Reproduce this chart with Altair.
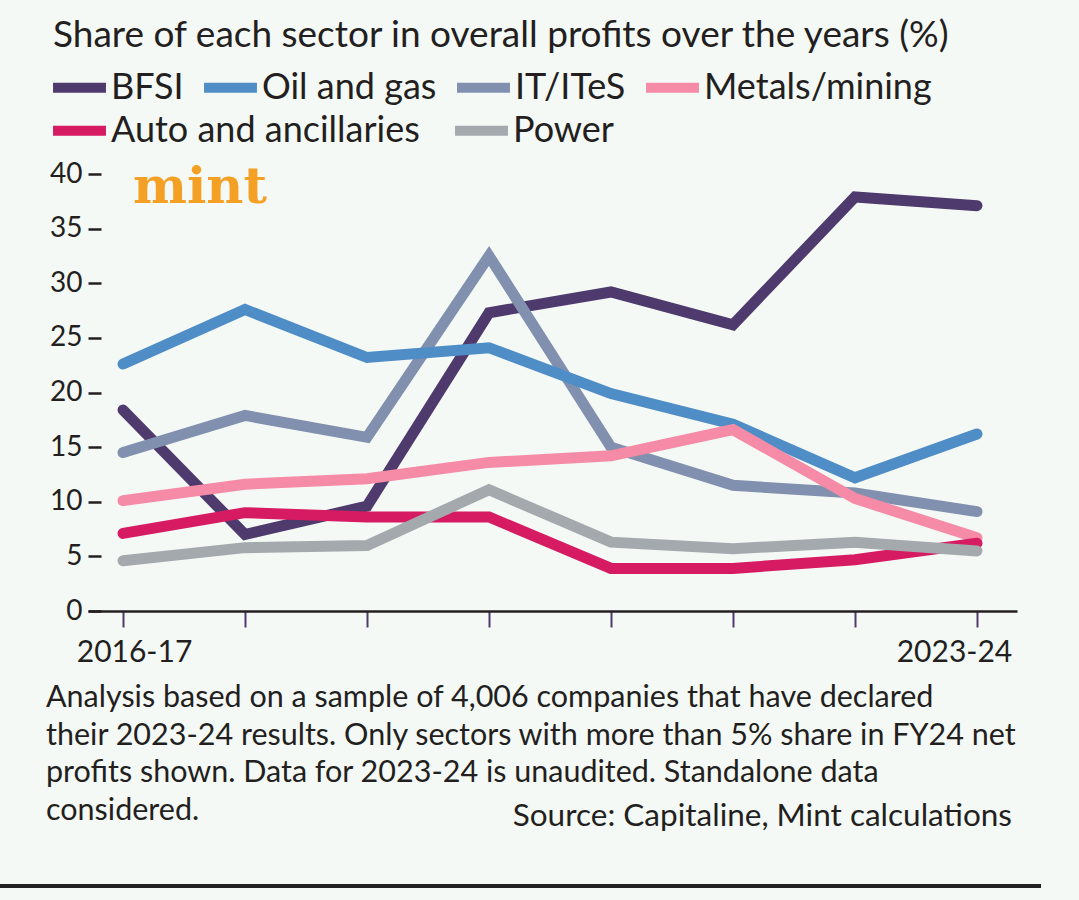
import altair as alt
import pandas as pd

# Fiscal years shown on the x axis
years = ["2016-17", "2017-18", "2018-19", "2019-20", "2020-21", "2021-22", "2022-23", "2023-24"]

# Share of each sector in overall net profits (%)
bfsi = [18.4, 7.0, 9.6, 27.3, 29.2, 26.2, 37.9, 37.1]
oil_gas = [22.6, 27.6, 23.2, 24.1, 19.9, 17.1, 12.2, 16.2]
it_ites = [14.5, 17.9, 15.9, 32.5, 15.0, 11.5, 10.8, 9.1]
metals_mining = [10.1, 11.6, 12.1, 13.6, 14.2, 16.6, 10.3, 6.7]
auto_ancillaries = [7.1, 9.0, 8.6, 8.6, 3.9, 3.9, 4.7, 6.2]
power = [4.6, 5.8, 6.0, 11.1, 6.3, 5.7, 6.3, 5.5]

# Legend rows: each row gets its own key
row1_names = ["BFSI", "Oil and gas", "IT/ITeS", "Metals/mining"]
row1_colors = ["#4e3a6c", "#4f8dc6", "#8190ae", "#f58ba6"]
row2_names = ["Auto and ancillaries", "Power"]
row2_colors = ["#d61b62", "#a4a9ad"]

# Lines are drawn in this order (later ones sit on top)
series = [
    ("BFSI", bfsi),
    ("IT/ITeS", it_ites),
    ("Oil and gas", oil_gas),
    ("Metals/mining", metals_mining),
    ("Auto and ancillaries", auto_ancillaries),
    ("Power", power),
]

subtitle = "Share of each sector in overall profits over the years (%)"
footnote = [
    "Analysis based on a sample of 4,006 companies that have declared",
    "their 2023-24 results. Only sectors with more than 5% share in FY24 net",
    "profits shown. Data for 2023-24 is unaudited. Standalone data",
    "considered.",
]
source = "Source: Capitaline, Mint calculations"

rows = []
for name, vals in series:
    for i, (yr, v) in enumerate(zip(years, vals)):
        rows.append({"Sector": name, "Year": yr, "idx": i, "Share": v})
df = pd.DataFrame(rows)

FONT = "Lato"
INK = "#231f20"
BG = "#f5f9f6"

label_expr = f"datum.value == 0 ? '{years[0]}' : (datum.value == {len(years) - 1} ? '{years[-1]}' : '')"

x_enc = alt.X(
    "idx:Q",
    scale=alt.Scale(domain=[-0.287, 7.328], nice=False, zero=False),
    axis=alt.Axis(
        values=list(range(len(years))),
        labelExpr=label_expr,
        title=None,
        grid=False,
        domainColor=INK,
        domainWidth=2.5,
        tickColor="#4e3a6c",
        tickWidth=2,
        tickSize=16,
        labelFont=FONT,
        labelFontSize=30,
        labelColor=INK,
        labelPadding=10,
        labelOffset=alt.condition("datum.value == 0", alt.value(11), alt.value(-23)),
    ),
)

y_enc = alt.Y(
    "Share:Q",
    scale=alt.Scale(domain=[0, 40], nice=False),
    axis=alt.Axis(
        values=[0, 5, 10, 15, 20, 25, 30, 35, 40],
        title=None,
        grid=False,
        domain=False,
        offset=-13,
        tickColor=INK,
        tickWidth=2.5,
        tickSize=13,
        labelFont=FONT,
        labelFontSize=28,
        labelColor=INK,
        labelPadding=6,
    ),
)


def row_legend(y_pos, gap):
    return alt.Legend(
        title=None,
        orient="none",
        legendX=-40,
        legendY=y_pos,
        direction="horizontal",
        columns=4,
        columnPadding=gap,
        symbolType="stroke",
        symbolSize=2800,
        symbolStrokeWidth=10,
        labelFont=FONT,
        labelFontSize=36,
        labelColor=INK,
        labelOffset=0,
        labelLimit=600,
    )


line_style = dict(strokeWidth=11, strokeCap="round", strokeJoin="miter")

lines_top = alt.Chart(df).transform_filter(
    alt.FieldOneOfPredicate(field="Sector", oneOf=row1_names)
).mark_line(**line_style).encode(
    x=x_enc,
    y=y_enc,
    color=alt.Color(
        "Sector:N",
        scale=alt.Scale(domain=row1_names, range=row1_colors),
        legend=row_legend(-118, 0),
    ),
    detail="Sector:N",
)

lines_bottom = alt.Chart(df).transform_filter(
    alt.FieldOneOfPredicate(field="Sector", oneOf=row2_names)
).mark_line(**line_style).encode(
    x=x_enc,
    y=y_enc,
    stroke=alt.Stroke(
        "Sector:N",
        scale=alt.Scale(domain=row2_names, range=row2_colors),
        legend=row_legend(-75, 15),
    ),
    detail="Sector:N",
)

one = alt.Data(values=[{"k": 0}])

title_text = alt.Chart(one).mark_text(
    text=subtitle, font=FONT, fontSize=37, color=INK, align="left", baseline="alphabetic"
).encode(x=alt.value(-35), y=alt.value(-127))

logo = alt.Chart(one).mark_text(
    text="mint", font="DejaVu Serif", fontWeight="bold", fontSize=51,
    color="#f4a024", align="left", baseline="alphabetic"
).encode(x=alt.value(45), y=alt.value(29))

notes = alt.Chart(one).mark_text(
    text=footnote, font=FONT, fontSize=30.5, color=INK, align="left",
    baseline="alphabetic", lineHeight=37.5
).encode(x=alt.value(-42), y=alt.value(533))

source_text = alt.Chart(one).mark_text(
    text=source, font=FONT, fontSize=31.5, color=INK, align="right", baseline="alphabetic"
).encode(x=alt.value(924), y=alt.value(652))

bottom_rule = alt.Chart(one).mark_rule(color="#222222", strokeWidth=4).encode(
    x=alt.value(-88), x2=alt.value(953), y=alt.value(712)
)

chart = alt.layer(
    lines_top, lines_bottom, title_text, logo, notes, source_text, bottom_rule
).resolve_legend(color="independent", stroke="independent").properties(
    width=929,
    height=437,
    autosize=alt.AutoSizeParams(type="none"),
    padding={"left": 88, "top": 174, "right": 62, "bottom": 289},
    background=BG,
).configure_view(stroke=None)

chart.save("out.html", embed_options={"renderer": "svg", "actions": False})
